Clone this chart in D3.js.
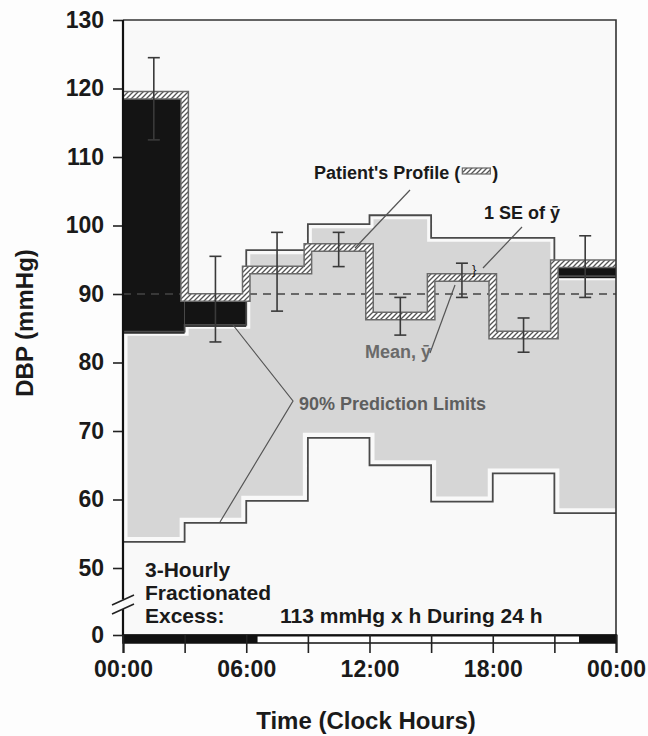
<!DOCTYPE html>
<html>
<head>
<meta charset="utf-8">
<script src="https://cdn.jsdelivr.net/npm/d3@7"></script>
<style>
  body { margin: 0; background: #fdfdfd; }
  svg { display: block; font-family: "Liberation Sans", Arial, sans-serif; font-weight: bold; }
</style>
</head>
<body>
<svg id="chart"></svg>
<script>
// 3-hour bins (start hour)
var bins = [0, 3, 6, 9, 12, 15, 18, 21];
// patient's profile (mmHg)
var profile = [119, 89.5, 93.5, 96.8, 86.8, 92.4, 84, 94.4];
// 90% prediction limits
var upperLimit = [84.5, 85.5, 96.4, 100.2, 101.5, 98.2, 98.2, 92.6];
var lowerLimit = [53.8, 56.6, 59.8, 69, 65, 59.7, 63.8, 58];
// error bars (1 SE)
var seLow = [112.5, 83, 87.5, 94, 84, 89.5, 81.5, 89.5];
var seHigh = [124.5, 95.5, 99, 99, 89.5, 94.5, 86.5, 98.5];
// sleep (black) periods on the time bar
var sleepPeriods = [[0, 6.55], [22.2, 24]];
var refLevel = 90;
var yTicks = [0, 50, 60, 70, 80, 90, 100, 110, 120, 130];
var xTicks = [0, 3, 6, 9, 12, 15, 18, 21, 24];
var xTickLabels = ["00:00", "06:00", "12:00", "18:00", "00:00"];

var width = 648, height = 736;
var bg = "#f9f9f9";
var svg = d3.select("#chart").attr("width", width).attr("height", height);

var x = d3.scaleLinear().domain([0, 24]).range([123, 616]);
// broken axis: 0 sits just below 50
var y = d3.scaleLinear().domain([0, 50, 130]).range([635, 568, 20]);

var pLeft = x(0), pRight = x(24), pTop = y(130), pBottom = y(0);

svg.append("defs").append("clipPath").attr("id", "plotclip")
    .append("rect").attr("x", pLeft).attr("y", pTop).attr("width", pRight - pLeft).attr("height", pBottom - pTop);

var hatch = svg.select("defs").append("pattern")
    .attr("id", "hatch").attr("patternUnits", "userSpaceOnUse")
    .attr("width", 5).attr("height", 5);
hatch.append("rect").attr("width", 5).attr("height", 5).attr("fill", "#fff");
hatch.append("path").attr("d", "M0,5L5,0M-1,1L1,-1M4,6L6,4")
    .attr("stroke", "#555").attr("stroke-width", 1.3);

svg.append("rect").attr("x", pLeft).attr("y", pTop).attr("width", pRight - pLeft).attr("height", pBottom - pTop)
    .attr("fill", bg);

var g = svg.append("g").attr("clip-path", "url(#plotclip)");

function steps(vals) {
    return bins.map((h, i) => [h, vals[i]]).concat([[24, vals[vals.length - 1]]]);
}

var band = bins.map((h, i) => ({h: h, lo: lowerLimit[i], hi: upperLimit[i]}));
band.push({h: 24, lo: lowerLimit[7], hi: upperLimit[7]});

var area = d3.area().curve(d3.curveStepAfter)
    .x(d => x(d.h)).y0(d => y(d.lo)).y1(d => y(d.hi));
var line = d3.line().curve(d3.curveStepAfter).x(d => x(d[0])).y(d => y(d[1]));

g.append("path").datum(band).attr("d", area).attr("fill", "#d6d6d6");

// light halo between the grey band and its outlines
g.append("path").datum(steps(upperLimit)).attr("d", line)
    .attr("fill", "none").attr("stroke", bg).attr("stroke-width", 8);
g.append("path").datum(steps(lowerLimit)).attr("d", line)
    .attr("fill", "none").attr("stroke", bg).attr("stroke-width", 10);
g.append("line").attr("x1", pLeft).attr("x2", pLeft).attr("y1", pTop).attr("y2", pBottom)
    .attr("stroke", bg).attr("stroke-width", 9);

// excess above upper limit
g.selectAll(".excess")
    .data(bins.map((h, i) => ({h: h, p: profile[i], u: upperLimit[i]})).filter(d => d.p > d.u))
    .enter().append("rect")
    .attr("class", "excess")
    .attr("x", d => x(d.h)).attr("width", d => x(d.h + 3) - x(d.h))
    .attr("y", d => y(d.p)).attr("height", d => y(d.u) - y(d.p) + 2)
    .attr("fill", "#141414");

// reference level
g.append("line").attr("x1", pLeft).attr("x2", pRight).attr("y1", y(refLevel)).attr("y2", y(refLevel))
    .attr("stroke", "#444").attr("stroke-width", 1.4).attr("stroke-dasharray", "8,6");

// prediction limit outlines
[upperLimit, lowerLimit].forEach(v => {
    g.append("path").datum(steps(v)).attr("d", line)
        .attr("fill", "none").attr("stroke", "#4a4a4a").attr("stroke-width", 1.8);
});

// patient's profile (hatched band)
g.append("path").datum(steps(profile)).attr("d", line)
    .attr("fill", "none").attr("stroke", "#6a6a6a").attr("stroke-width", 9);
g.append("path").datum(steps(profile)).attr("d", line)
    .attr("fill", "none").attr("stroke", "url(#hatch)").attr("stroke-width", 6);

// error bars
var eb = g.selectAll(".eb").data(bins.map((h, i) => ({h: h + 1.5, lo: seLow[i], hi: seHigh[i]})))
    .enter().append("g").attr("class", "eb")
    .attr("stroke", "#3a3a3a").attr("stroke-width", 1.6);
eb.append("line").attr("x1", d => x(d.h)).attr("x2", d => x(d.h)).attr("y1", d => y(d.lo)).attr("y2", d => y(d.hi));
eb.append("line").attr("x1", d => x(d.h) - 6).attr("x2", d => x(d.h) + 6).attr("y1", d => y(d.lo)).attr("y2", d => y(d.lo));
eb.append("line").attr("x1", d => x(d.h) - 6).attr("x2", d => x(d.h) + 6).attr("y1", d => y(d.hi)).attr("y2", d => y(d.hi));

// frame
svg.append("path").attr("d", `M${pLeft},${pTop}H${pRight}V${pBottom}`)
    .attr("fill", "none").attr("stroke", "#333").attr("stroke-width", 1.6);

// sleep / wake bar
svg.append("rect").attr("x", pLeft).attr("y", pBottom).attr("width", pRight - pLeft).attr("height", 8)
    .attr("fill", "#fff").attr("stroke", "#111").attr("stroke-width", 1.5);
svg.selectAll(".sleep").data(sleepPeriods).enter().append("rect")
    .attr("class", "sleep")
    .attr("x", d => x(d[0])).attr("width", d => x(d[1]) - x(d[0]))
    .attr("y", pBottom).attr("height", 8).attr("fill", "#111");

// x axis
var xAxis = svg.append("g").attr("transform", `translate(0,${pBottom})`)
    .call(d3.axisBottom(x).tickValues(xTicks).tickSize(18).tickPadding(8)
        .tickFormat(d => d % 6 === 0 ? xTickLabels[d / 6] : ""));
xAxis.select(".domain").attr("stroke", "#111").attr("stroke-width", 2);
xAxis.selectAll(".tick line").attr("stroke", "#222").attr("stroke-width", 1.6);
xAxis.selectAll(".tick text").attr("font-size", 23).attr("font-family", null).attr("fill", "#1a1a1a");

// y axis
var yAxis = svg.append("g").attr("transform", `translate(${pLeft},0)`)
    .call(d3.axisLeft(y).tickValues(yTicks).tickSize(10).tickPadding(9).tickFormat(d3.format("d")));
yAxis.select(".domain").remove();
yAxis.selectAll(".tick line").attr("stroke", "#222").attr("stroke-width", 1.6);
yAxis.selectAll(".tick text").attr("font-size", 23).attr("font-family", null).attr("fill", "#1a1a1a");

// y axis line with a break
svg.append("path").attr("d", `M${pLeft},${pTop}V599.5M${pLeft},609V${pBottom}`)
    .attr("stroke", "#111").attr("stroke-width", 2.2);
svg.append("path").attr("d", "M112,605L134,595M112,614L134,604")
    .attr("stroke", "#222").attr("stroke-width", 1.6).attr("fill", "none");

// axis titles
svg.append("text").attr("x", 366).attr("y", 729).attr("text-anchor", "middle")
    .attr("font-size", 24).attr("fill", "#1a1a1a").text("Time (Clock Hours)");
svg.append("text").attr("transform", "translate(33,323) rotate(-90)").attr("text-anchor", "middle")
    .attr("font-size", 24).attr("fill", "#1a1a1a").text("DBP (mmHg)");

// annotations
var ann = svg.append("g").attr("fill", "#1a1a1a");
var pp = ann.append("text").attr("x", 314).attr("y", 179).attr("font-size", 18).text("Patient's Profile (");
var ppEnd = 314 + pp.node().getComputedTextLength();
ann.append("rect").attr("x", ppEnd + 2).attr("y", 168).attr("width", 28).attr("height", 6)
    .attr("fill", "url(#hatch)").attr("stroke", "#666").attr("stroke-width", 1.2);
ann.append("text").attr("x", ppEnd + 32).attr("y", 179).attr("font-size", 18).text(")");

ann.append("text").attr("x", 484).attr("y", 219).attr("font-size", 18).text("1 SE of \u0233");
ann.append("text").attr("x", 472).attr("y", 274).attr("font-size", 13).attr("font-weight", "normal").text("}");
ann.append("text").attr("x", 365).attr("y", 358).attr("font-size", 18).attr("fill", "#6a6a6a").text("Mean, \u0233");
ann.append("text").attr("x", 299).attr("y", 410).attr("font-size", 18).attr("fill", "#5e5e5e").text("90% Prediction Limits");

ann.append("text").attr("x", 145).attr("y", 577).attr("font-size", 21).text("3-Hourly");
ann.append("text").attr("x", 145).attr("y", 600).attr("font-size", 21).text("Fractionated");
ann.append("text").attr("x", 145).attr("y", 623).attr("font-size", 21).text("Excess:");
ann.append("text").attr("x", 280).attr("y", 623).attr("font-size", 21).text("113 mmHg x h During 24 h");

// leader lines
var leaders = [
    "M410,190L355,248",
    "M522,227L483,268",
    "M430,353L455,285",
    "M233,325L293,401L220,522"
];
svg.selectAll(".leader").data(leaders).enter().append("path")
    .attr("class", "leader").attr("d", d => d)
    .attr("fill", "none").attr("stroke", "#555").attr("stroke-width", 1.2);
</script>
</body>
</html>
